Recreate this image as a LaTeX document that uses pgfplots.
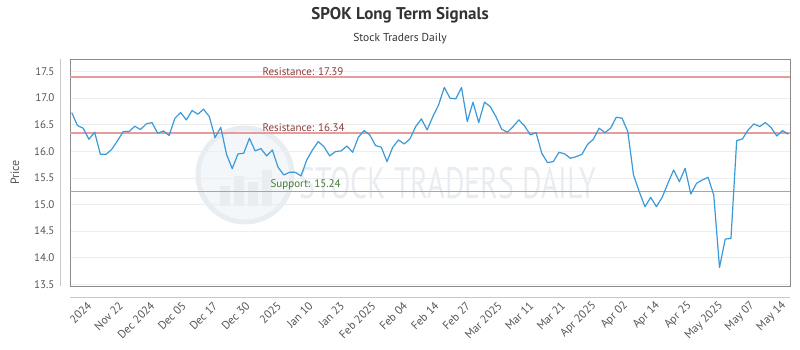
\documentclass[border=0pt]{standalone}
\usepackage{pgfplots}
\pgfplotsset{compat=1.18}
\usepackage{fontspec}
\setmainfont{PT Sans}
\definecolor{linec}{HTML}{3A9AD9}
\definecolor{resline}{HTML}{E49C9C}
\definecolor{greenline}{HTML}{7CC47C}
\definecolor{restext}{HTML}{8B3A3A}
\definecolor{suptext}{HTML}{3F7A34}
\definecolor{textgray}{HTML}{555555}
\definecolor{titlegray}{HTML}{333333}
\definecolor{framec}{HTML}{8A8A8A}
\definecolor{gridc}{HTML}{EDEDED}
\definecolor{axisc}{HTML}{C8C8C8}
\definecolor{wmark}{HTML}{E8EDF1}
\definecolor{wmarkfill}{HTML}{F4F7F9}
\pgfplotstableread{
x y
0 16.725
1 16.481
2 16.431
3 16.224
4 16.355
5 15.942
6 15.942
7 16.036
8 16.199
9 16.368
10 16.368
11 16.468
12 16.406
13 16.512
14 16.537
15 16.337
16 16.380
17 16.293
18 16.619
19 16.725
20 16.587
21 16.763
22 16.694
23 16.788
24 16.650
25 16.255
26 16.449
27 15.942
28 15.672
29 15.948
30 15.961
31 16.243
32 16.005
33 16.048
34 15.911
35 16.023
36 15.698
37 15.553
38 15.603
39 15.603
40 15.535
41 15.835
42 16.023
43 16.180
44 16.086
45 15.911
46 15.992
47 16.005
48 16.098
49 15.980
50 16.261
51 16.387
52 16.305
53 16.105
54 16.074
55 15.804
56 16.074
57 16.211
58 16.136
59 16.230
60 16.462
61 16.606
62 16.399
63 16.650
64 16.869
65 17.195
66 16.994
67 16.982
68 17.195
69 16.556
70 16.919
71 16.537
72 16.919
73 16.838
74 16.650
75 16.412
76 16.356
77 16.462
78 16.587
79 16.474
80 16.305
81 16.349
82 15.961
83 15.785
84 15.804
85 15.980
86 15.948
87 15.867
88 15.898
89 15.942
90 16.130
91 16.224
92 16.431
93 16.349
94 16.431
95 16.637
96 16.619
97 16.368
98 15.553
99 15.240
100 14.958
101 15.134
102 14.958
103 15.134
104 15.397
105 15.647
106 15.428
107 15.679
108 15.196
109 15.397
110 15.459
111 15.510
112 15.177
113 13.818
114 14.350
115 14.363
116 16.199
117 16.230
118 16.399
119 16.512
120 16.462
121 16.537
122 16.443
123 16.286
124 16.387
125 16.318
}\pricedata
\begin{document}
\begin{tikzpicture}[x=1pt,y=1pt]
\useasboundingbox (-70,-64) rectangle (730,286);
% watermark
\fill[wmarkfill] (175,111) circle (47);
\draw[wmark, line width=5pt] (175,111) circle (47);
\fill[wmark] (150,80) rectangle (160,100);
\fill[wmark] (164,80) rectangle (174,110);
\fill[wmark] (178,80) rectangle (188,104);
\fill[wmark] (192,80) rectangle (202,116);
\node[wmark, font=\fontsize{44}{44}\selectfont, xscale=0.68] at (378,103) {STOCK TRADERS DAILY};
% title
\node[font=\bfseries\fontsize{17}{20}\selectfont, color=titlegray] at (330,271) {SPOK Long Term Signals};
\node[font=\fontsize{11.5}{14}\selectfont, color=titlegray] at (330,247) {Stock Traders Daily};
% separate axis lines
\draw[axisc, line width=0.8pt] (-9.3,0) -- (-9.3,227);
\draw[axisc, line width=0.8pt] (0,-11) -- (720,-11);
\begin{axis}[
  at={(0,0)}, anchor=south west, scale only axis,
  width=720pt, height=227pt,
  xmin=-0.3, xmax=125.3, ymin=13.47, ymax=17.73,
  ytick={13.5,14,14.5,15,15.5,16,16.5,17,17.5},
  yticklabels={13.5,14.0,14.5,15.0,15.5,16.0,16.5,17.0,17.5},
  yticklabel style={font=\fontsize{11}{13}\selectfont, color=textgray, xshift=-12pt},
  xtick={3.3,8.8,14.3,19.8,25.3,30.9,36.4,41.9,47.4,52.9,58.4,63.9,69.4,74.9,80.4,85.9,91.4,96.9,102.5,108.0,113.5,119.0,124.5},
  xticklabels={2024,Nov 22,Dec 2024,Dec 05,Dec 17,Dec 30,2025,Jan 10,Jan 23,Feb 2025,Feb 04,Feb 14,Feb 27,Mar 2025,Mar 11,Mar 21,Apr 2025,Apr 02,Apr 14,Apr 25,May 2025,May 07,May 14},
  xticklabel style={rotate=45, anchor=east, font=\fontsize{11.5}{13}\selectfont, color=textgray, xshift=-9.9pt, yshift=-11.7pt},
  major tick length=0pt,
  ymajorgrids, grid style={color=gridc, line width=0.6pt},
  axis line style={color=framec, line width=0.8pt},
  ylabel={Price},
  every axis y label/.style={at={([xshift=-55pt]axis description cs:0,0.5)}, rotate=90, anchor=center, font=\fontsize{12}{14}\selectfont, color=textgray},
  clip=false,
]
\addplot[draw=resline, line width=1.3pt, forget plot] coordinates {(-0.3,17.39) (125.3,17.39)};
\addplot[draw=resline, line width=1.3pt, forget plot] coordinates {(-0.3,16.34) (125.3,16.34)};
\addplot[draw=greenline, line width=1.3pt, forget plot] coordinates {(-0.3,15.24) (125.3,15.24)};
\addplot[draw=linec, line width=1.2pt, line join=round, forget plot] table[x=x,y=y] {\pricedata};
\node[anchor=south west, inner sep=1.5pt, font=\fontsize{11}{13}\selectfont, color=restext] at (axis cs:33.0,17.39) {Resistance: 17.39};
\node[anchor=south west, inner sep=1.5pt, font=\fontsize{11}{13}\selectfont, color=restext] at (axis cs:33.0,16.34) {Resistance: 16.34};
\node[anchor=south west, inner sep=1.5pt, font=\fontsize{11}{13}\selectfont, color=suptext] at (axis cs:34.4,15.24) {Support: 15.24};
\end{axis}
\end{tikzpicture}
\end{document}
